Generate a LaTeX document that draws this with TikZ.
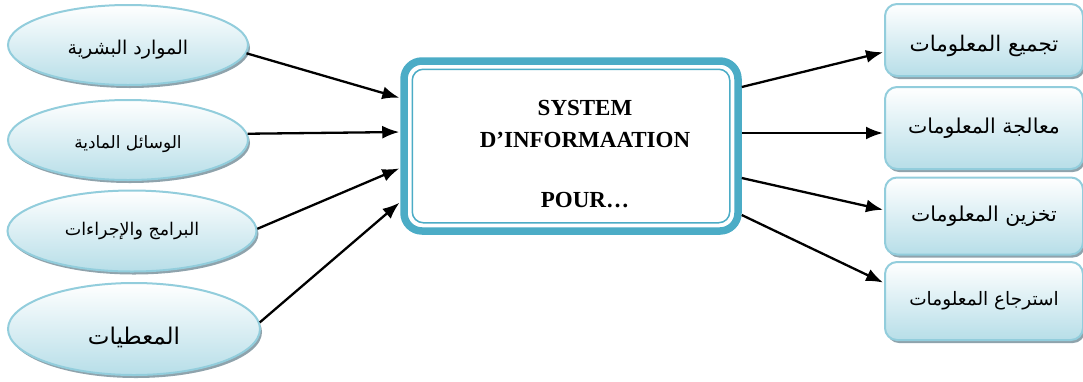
\documentclass[tikz,border=0pt]{standalone}
\usepackage{fontspec}
\setmainfont{Liberation Serif}
\newfontfamily\arabicfont[Script=Arabic]{DejaVu Sans}
\TeXXeTstate=1
\usepackage{tikz}
\usetikzlibrary{arrows.meta,shapes.geometric,shadows}
\definecolor{rimblue}{HTML}{92CDDC}
\definecolor{lightblue}{HTML}{B7DEE8}
\definecolor{sysblue}{HTML}{4BACC6}
\definecolor{shadowgray}{HTML}{8FA3AC}
\newcommand{\arsize}[1]{\arabicfont\fontsize{#1}{#1}\selectfont}
\newcommand{\droptext}[2]{\raisebox{-#1}[\height][\depth]{#2}}

\begin{document}
\begin{tikzpicture}[x=1pt,y=-1pt,->,>={Latex[length=17pt,width=13pt]},shorten >=1pt,
  line width=2.3pt,
  res node/.style={ellipse,draw=rimblue,line width=2pt,inner sep=0pt,
    top color=white,bottom color=lightblue,
    drop shadow={shadow xshift=2pt,shadow yshift=-3pt,fill=shadowgray,opacity=1}},
  task node/.style={rectangle,rounded corners=12pt,draw=rimblue,line width=2pt,
    top color=white,bottom color=lightblue,minimum width=198pt,inner sep=0pt,
    drop shadow={shadow xshift=2pt,shadow yshift=-3pt,fill=shadowgray,opacity=1}},
  sys node/.style={rectangle,rounded corners=18pt,draw=sysblue,line width=7.5pt,fill=white,
    minimum width=334pt,minimum height=170pt}]

  \useasboundingbox (0,0) rectangle (1083,381);

  % resources
  \node[res node,minimum width=240pt,minimum height=80pt] (hr) at (128,45)
    {\droptext{5pt}{\arsize{19}\beginR الموارد البشرية\endR}};
  \node[res node,minimum width=240pt,minimum height=80pt] (md) at (128,140)
    {\droptext{4pt}{\arsize{17}\beginR الوسائل المادية\endR}};
  \node[res node,minimum width=249pt,minimum height=81pt] (pr) at (132,231)
    {\arsize{17.5}\beginR البرامج والإجراءات\endR};
  \node[res node,minimum width=252pt,minimum height=92pt] (dt) at (134,329)
    {\droptext{8pt}{\arsize{23}\beginR المعطيات\endR}};

  % system
  \node[sys node] (sys) at (571,146) {};
  \draw[-,sysblue,line width=1.5pt,rounded corners=11pt]
    ([shift={(12pt,12pt)}]sys.south west) rectangle ([shift={(-12pt,-12pt)}]sys.north east);
  \node[font=\bfseries\fontsize{23}{32}\selectfont,align=center] (systxt)
    at ([shift={(14pt,-8pt)}]sys.center) {SYSTEM\\D’INFORMAATION\\[28pt]POUR…};

  % tasks
  \node[task node,minimum height=72pt] (col) at (984,40)
    {\droptext{6pt}{\arsize{21.5}\beginR تجميع المعلومات\endR}};
  \node[task node,minimum height=82pt] (prc) at (984,128)
    {\arsize{20.5}\beginR معالجة المعلومات\endR};
  \node[task node,minimum height=77pt] (sto) at (984,216)
    {\arsize{20.5}\beginR تخزين المعلومات\endR};
  \node[task node,minimum height=78pt] (ret) at (984,301)
    {\arsize{18.5}\beginR استرجاع المعلومات\endR};

  \draw (hr.-4) -- ([yshift=48pt]sys.west);
  \draw (md.3) -- ([yshift=14pt]sys.west);
  \draw (pr.1) -- ([yshift=-22pt]sys.west);
  \draw (dt.3) -- ([yshift=-56pt]sys.west);

  \draw ([yshift=59pt]sys.east) -- ([yshift=-12pt]col.west);
  \draw ([yshift=13pt]sys.east) -- ([yshift=-5pt]prc.west);
  \draw ([yshift=-32pt]sys.east) -- ([yshift=6pt]sto.west);
  \draw ([yshift=-69pt]sys.east) -- ([yshift=18pt]ret.west);

\end{tikzpicture}
\end{document}
